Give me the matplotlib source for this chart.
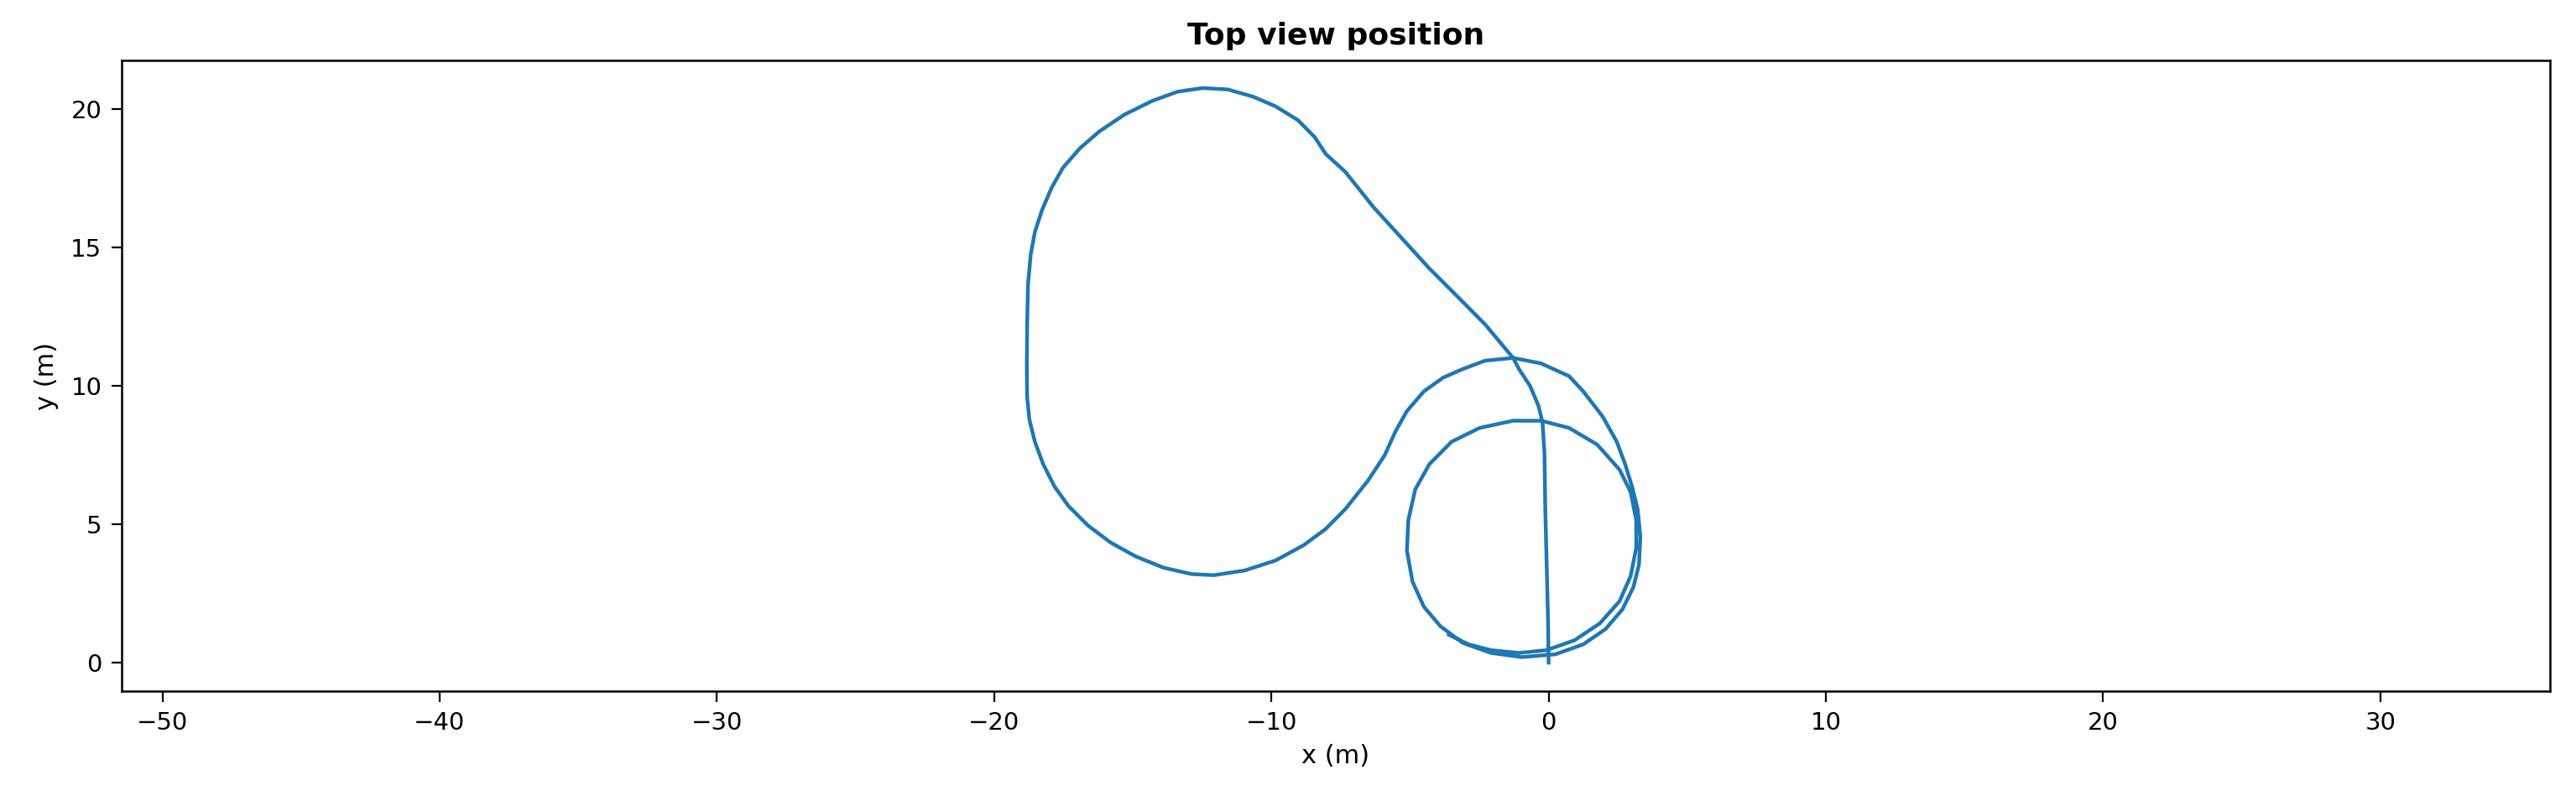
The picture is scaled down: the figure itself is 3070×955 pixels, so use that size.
import numpy as np
import matplotlib
matplotlib.use("Agg")
from matplotlib import pyplot as plt

# trajectory (metres), in driving order
x_m = [0.0, -0.02, -0.07, -0.12, -0.15, -0.22, -0.37, -0.67, -1.07, -1.28,
       -2.29, -3.29, -4.30, -5.31, -6.32, -7.33, -8.04, -8.44, -9.04, -9.85,
       -10.66, -11.57, -12.48, -13.38, -14.29, -15.30, -16.21, -16.91, -17.52, -17.92,
       -18.27, -18.53, -18.68, -18.78, -18.81, -18.82, -18.81, -18.73, -18.53,
       -18.23, -17.82, -17.32, -16.61, -15.80, -14.90, -13.89, -12.88, -12.07, -10.96,
       -9.85, -8.84, -8.04, -7.33, -6.52, -5.92, -5.51, -5.11, -4.50, -3.80,
       -3.09, -2.29, -1.28, -0.27, 0.74, 1.25, 1.95, 2.46, 2.76, 3.01,
       3.21, 3.31, 3.26, 3.06, 2.66, 2.05, 1.25, 0.24, -0.97, -2.08,
       -3.09, -3.90, -4.50, -4.91, -5.11, -5.06, -4.81, -4.30, -3.50, -2.49,
       -1.28, -0.27, 0.74, 1.75, 2.56, 2.96, 3.16, 3.16, 2.96, 2.56,
       1.85, 0.94, -0.07, -1.07, -2.08, -2.89, -3.60]
y_m = [0.0, 1.52, 3.54, 5.55, 7.58, 8.69, 9.29, 10.00, 10.61, 11.01,
       12.22, 13.23, 14.24, 15.35, 16.46, 17.73, 18.38, 18.99, 19.60, 20.10,
       20.45, 20.71, 20.76, 20.63, 20.30, 19.80, 19.19, 18.58, 17.88, 17.17,
       16.36, 15.56, 14.75, 13.64, 12.12, 10.61, 9.60, 8.79, 7.98,
       7.17, 6.36, 5.66, 4.95, 4.34, 3.84, 3.43, 3.20, 3.16, 3.33,
       3.69, 4.24, 4.83, 5.55, 6.57, 7.48, 8.38, 9.09, 9.80, 10.30,
       10.61, 10.91, 11.01, 10.81, 10.35, 9.80, 8.89, 7.98, 7.17, 6.36,
       5.55, 4.55, 3.54, 2.73, 1.92, 1.21, 0.66, 0.30, 0.20, 0.35,
       0.71, 1.31, 2.02, 2.93, 4.04, 5.15, 6.26, 7.17, 7.98, 8.48,
       8.74, 8.74, 8.48, 7.88, 6.97, 6.16, 5.15, 4.14, 3.13, 2.22,
       1.42, 0.81, 0.45, 0.35, 0.45, 0.66, 1.01]

fig = plt.figure(figsize=(30.7, 9.55), dpi=100)
ax = fig.add_axes([145/3070, 1-824/955, (3039-145)/3070, (824-72)/955])

ax.plot(x_m, y_m, color="#1f77b4", lw=3.2)

ax.set_xlim(-51.47, 36.12)
ax.set_ylim(-1.03, 21.76)
ax.set_xticks([-50, -40, -30, -20, -10, 0, 10, 20, 30])
ax.set_yticks([0, 5, 10, 15, 20])

ax.set_title("Top view position", fontsize=26, fontweight="bold", pad=14)
ax.set_xlabel("x (m)", fontsize=22, labelpad=8)
ax.set_ylabel("y (m)", fontsize=22, labelpad=10)
ax.tick_params(labelsize=21, length=9, width=1.6, pad=8)
for s in ax.spines.values():
    s.set_linewidth(1.8)

fig.savefig("out.png", dpi=100)
